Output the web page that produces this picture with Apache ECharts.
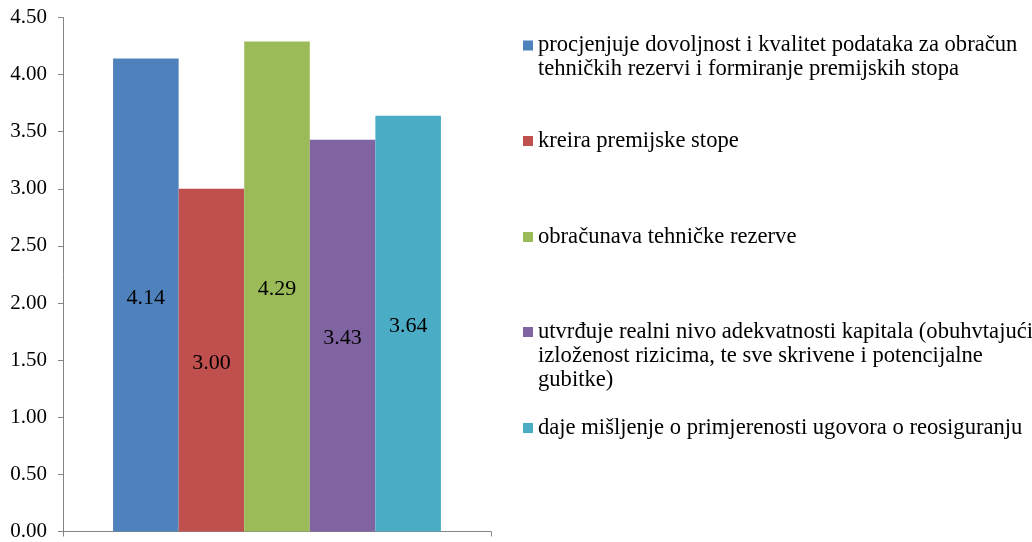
<!DOCTYPE html>
<html>
<head>
<meta charset="utf-8">
<script src="https://cdn.jsdelivr.net/npm/echarts@6/dist/echarts.min.js"></script>
<style>html,body{margin:0;padding:0;background:#fff;}#c{width:1032px;height:542px;}</style>
</head>
<body>
<div id="c"></div>
<script>
var categories = [''];
var seriesNames = [
  'procjenjuje dovoljnost i kvalitet podataka za obračun\ntehničkih rezervi i formiranje premijskih stopa',
  'kreira premijske stope',
  'obračunava tehničke rezerve',
  'utvrđuje realni nivo adekvatnosti kapitala (obuhvtajući\nizloženost rizicima, te sve skrivene i potencijalne\ngubitke)',
  'daje mišljenje o primjerenosti ugovora o reosiguranju'
];
var seriesValues = [4.14, 3.00, 4.29, 3.43, 3.64];
var colors = ['#4F81BD', '#C0504D', '#9BBB59', '#8064A2', '#4BACC6'];
var yTicks = [0, 0.5, 1, 1.5, 2, 2.5, 3, 3.5, 4, 4.5];

var FONT = '"Liberation Serif", "Times New Roman", serif';
var LH = 24;
var iconCenters = [45.5, 141, 237, 332, 428];

var chart = echarts.init(document.getElementById('c'), null, {renderer: 'canvas'});

var legends = seriesNames.map(function (name, i) {
  var n = name.split('\n').length;
  var pre = new Array(n).join('\n');
  return {
    data: [name],
    left: 523,
    top: iconCenters[i] - (2 * n - 1) * LH / 2,
    orient: 'vertical',
    icon: 'rect',
    itemWidth: 10,
    itemHeight: 10,
    padding: 0,
    selectedMode: false,
    formatter: function (nm) { return pre + nm; },
    textStyle: {
      fontFamily: FONT,
      fontSize: 22.6,
      color: '#000',
      lineHeight: LH
    }
  };
});

var series = seriesNames.map(function (name, i) {
  return {
    name: name,
    type: 'bar',
    data: [seriesValues[i]],
    barGap: '0%',
    barCategoryGap: '23.4%',
    itemStyle: {color: colors[i]},
    label: {
      show: true,
      position: 'inside',
      offset: [0, 3],
      fontFamily: FONT,
      fontSize: 22,
      color: '#000',
      formatter: function (p) { return p.value.toFixed(2); }
    }
  };
});

chart.setOption({
  animation: false,
  backgroundColor: '#fff',
  color: colors,
  legend: legends,
  grid: {left: 63, right: 541, top: 17.5, bottom: 3, containLabel: false},
  xAxis: {
    type: 'category',
    data: categories,
    axisLine: {show: true, lineStyle: {color: '#868686', width: 1}},
    axisTick: {show: true, length: 5, lineStyle: {color: '#868686'}},
    axisLabel: {show: false},
    splitLine: {show: false}
  },
  yAxis: {
    type: 'value',
    min: yTicks[0],
    max: yTicks[yTicks.length - 1],
    interval: 0.5,
    axisLine: {show: true, lineStyle: {color: '#868686', width: 1}},
    axisTick: {show: true, length: 5, lineStyle: {color: '#868686'}},
    axisLabel: {
      margin: 16,
      fontFamily: FONT,
      fontSize: 21,
      color: '#000',
      formatter: function (v) { return v.toFixed(2); }
    },
    splitLine: {show: false}
  },
  series: series
});
</script>
</body>
</html>
